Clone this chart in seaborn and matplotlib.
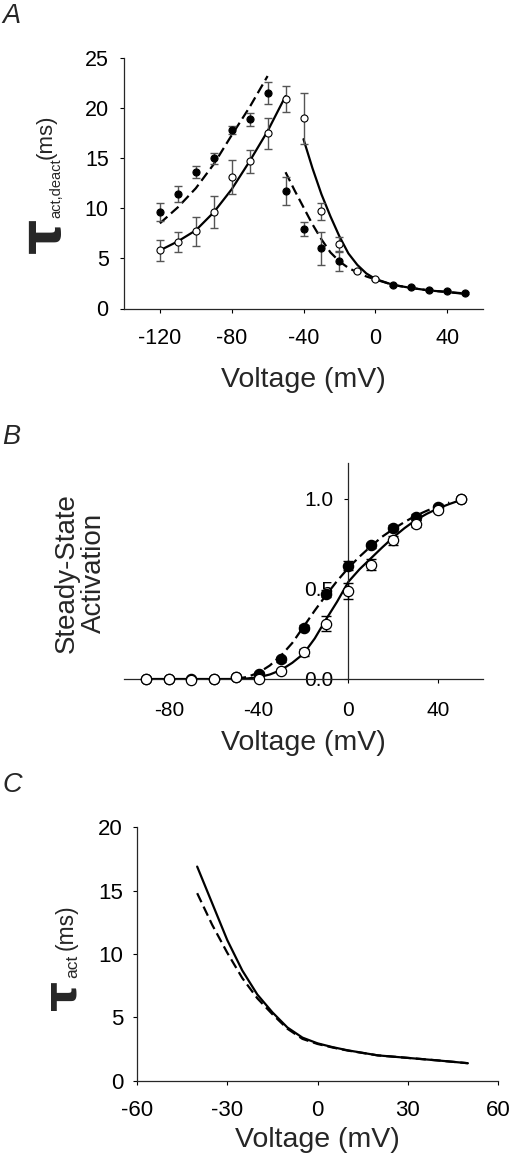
import numpy as np
import pandas as pd
import matplotlib
matplotlib.use('Agg')
import matplotlib.pyplot as plt
import seaborn as sns

# ---- panel A: time constants (points + fits)
volt_a = [-120, -110, -100, -90, -80, -70, -60, -50, -40, -30, -20, -10, 0, 10, 20, 30, 40, 50]
tau_filled = [9.6, 11.4, 13.6, 15.0, 17.8, 18.9, 21.5, 11.7, 7.9, 6.0, 4.7, np.nan, np.nan, 2.35, 2.1, 1.8, 1.7, 1.5]
err_filled = [0.88, 0.8, 0.6, 0.53, 0.43, 0.65, 1.07, 1.4, 0.7, 1.67, 1.0, np.nan, np.nan, 0.1, 0.1, 0.1, 0.1, 0.1]
tau_open = [5.8, 6.6, 7.7, 9.6, 13.1, 14.7, 17.5, 20.9, 19.0, 9.7, 6.4, 3.75, 2.95, np.nan, np.nan, np.nan, np.nan, np.nan]
err_open = [1.05, 1.0, 1.45, 1.6, 1.7, 1.13, 1.55, 1.27, 2.55, 0.87, 0.75, 0.1, 0.1, np.nan, np.nan, np.nan, np.nan, np.nan]

fit_a_dash_act_v = [-120, -110, -100, -90, -80, -70, -60]
fit_a_dash_act = [8.5, 10.1, 12.0, 14.4, 17.3, 20.1, 23.2]
fit_a_solid_act_v = [-120, -110, -100, -90, -80, -70, -60, -50]
fit_a_solid_act = [5.8, 6.7, 7.8, 9.6, 11.9, 14.7, 17.7, 21.2]
fit_a_dash_deact_v = [-50, -45, -40, -35, -30, -25, -20, -15, -10, -5, 0, 10, 20, 30, 40, 50]
fit_a_dash_deact = [13.6, 11.8, 10.1, 8.4, 6.9, 5.6, 4.7, 4.05, 3.6, 3.2, 2.9, 2.35, 2.05, 1.8, 1.65, 1.5]
fit_a_solid_deact_v = [-40, -35, -30, -25, -20, -15, -10, -5, 0, 10, 20, 30, 40, 50]
fit_a_solid_deact = [16.9, 14.0, 11.4, 9.2, 7.2, 5.5, 4.35, 3.5, 2.95, 2.35, 2.05, 1.8, 1.65, 1.45]

# ---- panel B: steady-state activation
volt_b = [-90, -80, -70, -60, -50, -40, -30, -20, -10, 0, 10, 20, 30, 40, 50]
act_filled = [0.0, 0.0, 0.0, 0.0, 0.01, 0.03, 0.11, 0.285, 0.475, 0.63, 0.743, 0.84, 0.90, 0.957, 1.0]
act_filled_err = [0, 0, 0, 0, 0, 0.01, 0.015, 0.015, 0.02, 0.025, 0.015, 0.015, 0.015, 0.01, 0]
act_open = [0.0, 0.0, -0.005, 0.0, 0.01, 0.0, 0.045, 0.148, 0.308, 0.49, 0.635, 0.77, 0.863, 0.94, 1.0]
act_open_err = [0, 0, 0, 0, 0, 0, 0.01, 0.02, 0.04, 0.045, 0.03, 0.025, 0.02, 0.01, 0]

fit_b_dash_v = [-50, -45, -40, -35, -30, -25, -20, -15, -10, -5, 0, 5, 10, 15, 20, 25, 30, 35, 40, 45]
fit_b_dash = [0.0, 0.012, 0.035, 0.075, 0.13, 0.2, 0.29, 0.38, 0.465, 0.545, 0.617, 0.68, 0.737, 0.79, 0.833, 0.872, 0.907, 0.935, 0.96, 0.98]
fit_b_solid_v = [-90, -50, -45, -40, -35, -30, -25, -20, -15, -10, -5, 0, 5, 10, 15, 20, 25, 30, 35, 40, 45, 50]
fit_b_solid = [0.0, 0.0, 0.003, 0.01, 0.025, 0.05, 0.09, 0.14, 0.225, 0.33, 0.43, 0.54, 0.61, 0.67, 0.73, 0.787, 0.838, 0.883, 0.918, 0.948, 0.972, 0.994]

# ---- panel C: model tau_act
fit_c_v = [-40, -35, -30, -25, -20, -15, -10, -5, 0, 5, 10, 20, 30, 40, 50]
fit_c_solid = [16.9, 14.0, 11.1, 8.7, 6.8, 5.4, 4.2, 3.4, 2.95, 2.65, 2.4, 2.0, 1.8, 1.6, 1.38]
fit_c_dash = [14.8, 12.3, 10.1, 8.1, 6.5, 5.25, 4.1, 3.3, 2.9, 2.62, 2.38, 2.0, 1.8, 1.6, 1.38]

sns.set_style('ticks')
plt.rcParams['font.family'] = ['Liberation Sans', 'DejaVu Sans']
plt.rcParams['axes.linewidth'] = 0.9
plt.rcParams['axes.unicode_minus'] = False

W, H = 509, 1156
fig = plt.figure(figsize=(W / 100, H / 100), dpi=100)


def rect(l, t, r, b):
    return [l / W, 1 - b / H, (r - l) / W, (b - t) / H]


DASH = (0, (4.5, 2.2))


def curve(ax, x, y, dashed=False, lw=1.6):
    sns.lineplot(x=x, y=y, ax=ax, color='black', lw=lw, estimator=None, sort=False,
                 linestyle=DASH if dashed else '-', zorder=2)


def style_axes(ax, tsize, xpad, ypad):
    sns.despine(ax=ax)
    ax.tick_params(direction='out', length=3, width=0.8, labelsize=tsize, colors='black')
    ax.tick_params(axis='x', pad=xpad)
    ax.tick_params(axis='y', pad=ypad)


# ================= A
axA = fig.add_axes(rect(124, 58, 483, 308.5))
ax = axA
curve(ax, fit_a_dash_act_v, fit_a_dash_act, dashed=True)
curve(ax, fit_a_solid_act_v, fit_a_solid_act)
curve(ax, fit_a_dash_deact_v, fit_a_dash_deact, dashed=True)
curve(ax, fit_a_solid_deact_v, fit_a_solid_deact)
ax.errorbar(volt_a, tau_filled, yerr=err_filled, fmt='none', ecolor='#555555', elinewidth=1, capsize=3, capthick=1, zorder=3)
ax.errorbar(volt_a, tau_open, yerr=err_open, fmt='none', ecolor='#555555', elinewidth=1, capsize=3, capthick=1, zorder=3)
sns.scatterplot(x=volt_a, y=tau_filled, ax=ax, color='black', edgecolor='black', s=26, linewidth=0.8, zorder=4)
sns.scatterplot(x=volt_a, y=tau_open, ax=ax, color='white', edgecolor='black', s=26, linewidth=0.8, zorder=4)
ax.set_xlim(-140, 60)
ax.set_ylim(0, 25)
ax.set_xticks([-120, -80, -40, 0, 40])
ax.set_yticks([0, 5, 10, 15, 20, 25])
style_axes(ax, 15.5, 11, 8)
ax.set_xlabel('Voltage (mV)', fontsize=20.5)
ax.xaxis.label.set_va('center')
ax.xaxis.set_label_coords(0.5, (308.5 - 380) / 250.5)
ax.set_ylabel('')

# ================= B
axB = fig.add_axes(rect(124, 463, 483, 679))
ax = axB
curve(ax, fit_b_dash_v, fit_b_dash, dashed=True)
curve(ax, fit_b_solid_v, fit_b_solid)
ax.errorbar(volt_b, act_filled, yerr=act_filled_err, fmt='none', ecolor='black', elinewidth=1, capsize=3.5, capthick=1, zorder=3)
ax.errorbar(volt_b, act_open, yerr=act_open_err, fmt='none', ecolor='black', elinewidth=1, capsize=3.5, capthick=1, zorder=3)
sns.scatterplot(x=volt_b, y=act_filled, ax=ax, color='black', edgecolor='black', s=55, linewidth=0.9, zorder=4, clip_on=False)
sns.scatterplot(x=volt_b, y=act_open, ax=ax, color='white', edgecolor='black', s=55, linewidth=0.9, zorder=5, clip_on=False)
ax.set_xlim(-100, 60)
ax.set_ylim(0, 1.2)
ax.spines['left'].set_position(('data', 0))
ax.set_xticks([-80, -40, 0, 40])
ax.set_yticks([0, 0.5, 1.0])
ax.set_yticklabels(['0.0', '0.5', '1.0'])
style_axes(ax, 15, 13, 8)
ax.set_xlabel('Voltage (mV)', fontsize=20.5)
ax.xaxis.label.set_va('center')
ax.xaxis.set_label_coords(0.5, (679 - 743) / 216)
ax.set_ylabel('')
fig.text(80 / W, 1 - 573 / H, 'Steady-State\nActivation', rotation=90, ha='center', va='center',
         fontsize=20, linespacing=1.05)

# ================= C
axC = fig.add_axes(rect(137, 827.3, 498, 1080.7))
ax = axC
curve(ax, fit_c_v, fit_c_solid)
curve(ax, fit_c_v, fit_c_dash, dashed=True)
ax.set_xlim(-60, 60)
ax.set_ylim(0, 20)
ax.set_xticks([-60, -30, 0, 30, 60])
ax.set_yticks([0, 5, 10, 15, 20])
style_axes(ax, 16, 11, 7)
ax.set_xlabel('Voltage (mV)', fontsize=20.5)
ax.xaxis.label.set_va('center')
ax.xaxis.set_label_coords(0.5, (1080.7 - 1140) / 253.4)
ax.set_ylabel('')

# ---- tau labels built from pieces (big tau, subscript, unit)
fig.text(45 / W, 1 - 235 / H, '\u03c4', rotation=90, ha='center', va='center', fontsize=40,
         family='DejaVu Sans', weight='bold')
fig.text(56 / W, 1 - 188 / H, 'act,deact', rotation=90, ha='center', va='center', fontsize=10.5)
fig.text(46 / W, 1 - 137 / H, '(ms)', rotation=90, ha='center', va='center', fontsize=16)

fig.text(63 / W, 1 - 995 / H, '\u03c4', rotation=90, ha='center', va='center', fontsize=34,
         family='DejaVu Sans', weight='bold')
fig.text(73 / W, 1 - 966 / H, 'act', rotation=90, ha='center', va='center', fontsize=12.5)
fig.text(66 / W, 1 - 927 / H, '(ms)', rotation=90, ha='center', va='center', fontsize=16.5)

# ---- panel letters
for letter, top in [('A', 3), ('B', 424), ('C', 772)]:
    fig.text(2 / W, 1 - top / H, letter, ha='left', va='top', fontsize=19.5, style='italic')

fig.savefig('out.png', dpi=100)
